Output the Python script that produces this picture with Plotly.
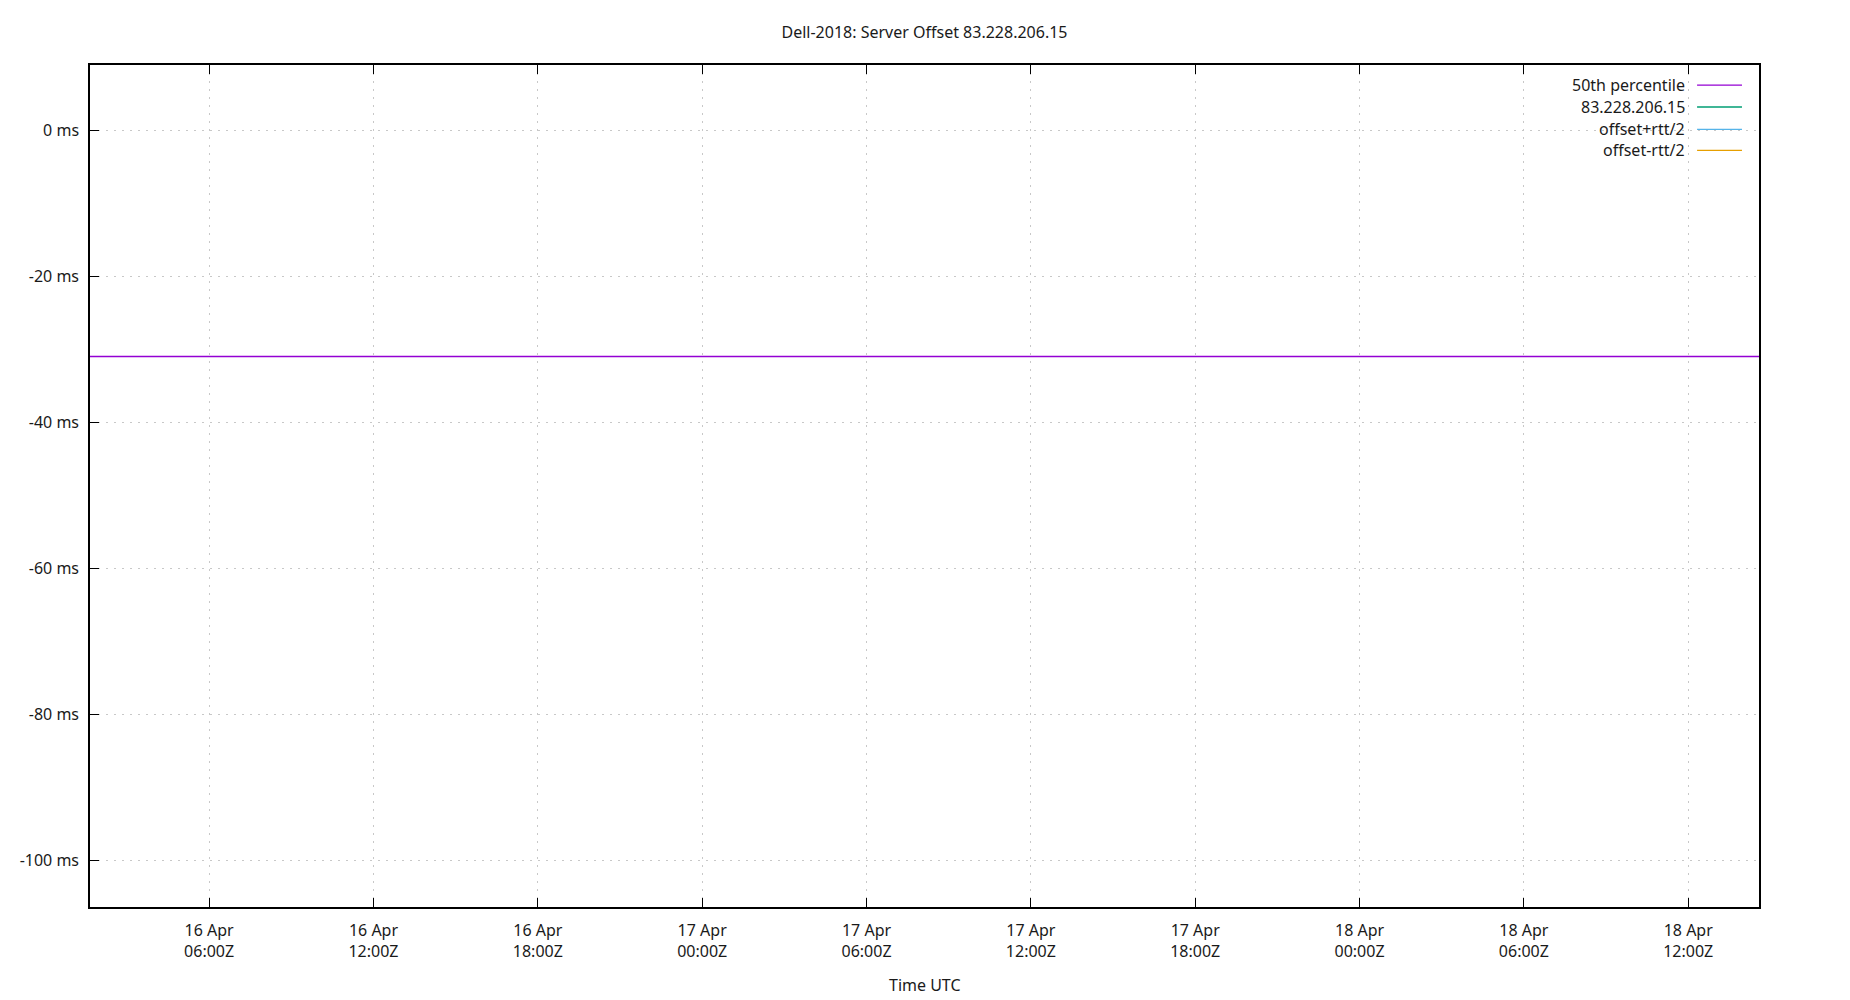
# %% Import Libraries
import plotly.graph_objects as go

# %% Data
series_names = ['50th percentile', '83.228.206.15', 'offset+rtt/2', 'offset-rtt/2']
series_colors = ['#9400d3', '#009e73', '#56b4e9', '#e69f00']

# 50th percentile of the offset, ms (flat over the whole window)
p50_time = ['2025-04-16 01:39', '2025-04-18 14:35']
p50_ms = [-30.95, -30.95]

# the other series have no points inside the window
server_time = []
server_ms = []
plus_time = []
plus_ms = []
minus_time = []
minus_ms = []

x_range = ['2025-04-16 01:39', '2025-04-18 14:35']
y_range = [-106.35, 8.98]

tick_times = ['2025-04-16 06:00', '2025-04-16 12:00', '2025-04-16 18:00',
              '2025-04-17 00:00', '2025-04-17 06:00', '2025-04-17 12:00',
              '2025-04-17 18:00', '2025-04-18 00:00', '2025-04-18 06:00',
              '2025-04-18 12:00']
tick_labels = ['16 Apr<br>06:00Z', '16 Apr<br>12:00Z', '16 Apr<br>18:00Z',
               '17 Apr<br>00:00Z', '17 Apr<br>06:00Z', '17 Apr<br>12:00Z',
               '17 Apr<br>18:00Z', '18 Apr<br>00:00Z', '18 Apr<br>06:00Z',
               '18 Apr<br>12:00Z']

# %% Figure
font = dict(family='Noto Sans', size=16, color='#1a1a1a')
fig = go.Figure()

all_x = [p50_time, server_time, plus_time, minus_time]
all_y = [p50_ms, server_ms, plus_ms, minus_ms]
for name, color, xs, ys in zip(series_names, series_colors, all_x, all_y):
    fig.add_trace(go.Scatter(x=xs, y=ys, mode='lines', name=name,
                             line=dict(color=color, width=1.3),
                             showlegend=False))

# opaque key box hides the grid behind it
fig.add_shape(type='rect', xref='paper', yref='paper',
              x0=0.8766, x1=0.9934, y0=0.8836, y1=0.999,
              fillcolor='white', line=dict(width=0), layer='between')

# gnuplot style key: text right aligned, sample line on the right
row_y = [0.9762, 0.9501, 0.9236, 0.8987]
for name, color, yy in zip(series_names, series_colors, row_y):
    fig.add_annotation(x=0.9569, y=yy, xref='paper', yref='paper',
                       text=name, showarrow=False, xanchor='right',
                       yanchor='middle', font=font)
    fig.add_shape(type='line', xref='paper', yref='paper',
                  x0=0.9629, x1=0.9898, y0=yy, y1=yy,
                  line=dict(color=color, width=1.3))

fig.add_annotation(x=0.5, y=-0.0926, xref='paper', yref='paper',
                   text='Time UTC', showarrow=False, yanchor='middle',
                   font=font)

axis_common = dict(showline=True, linecolor='black', linewidth=1.5,
                   ticks='inside', ticklen=9,
                   tickcolor='black', tickwidth=1.3,
                   showgrid=True, gridcolor='#c8c8c8', griddash='2px,6px',
                   gridwidth=1, zeroline=False, tickfont=font)

fig.update_xaxes(type='date', range=x_range, tickmode='array',
                 tickvals=tick_times, ticktext=tick_labels, mirror='ticks',
                 ticklabelstandoff=8, **axis_common)
fig.update_yaxes(range=y_range, tickmode='array',
                 tickvals=[-100, -80, -60, -40, -20, 0],
                 ticktext=['-100 ms', '-80 ms', '-60 ms', '-40 ms', '-20 ms', '0 ms'],
                 mirror=True, ticklabelstandoff=6, **axis_common)

# page body adds an 8px margin, so the figure is a bit smaller than the window
fig.update_layout(
    width=1842, height=992,
    title=dict(text='Dell-2018: Server Offset 83.228.206.15', x=0.5,
               xref='paper', y=0.975, yref='container', yanchor='middle',
               font=font),
    font=font,
    paper_bgcolor='white', plot_bgcolor='white',
    margin=dict(l=82, r=91, t=57, b=93),
)

fig.write_html('out.html')
